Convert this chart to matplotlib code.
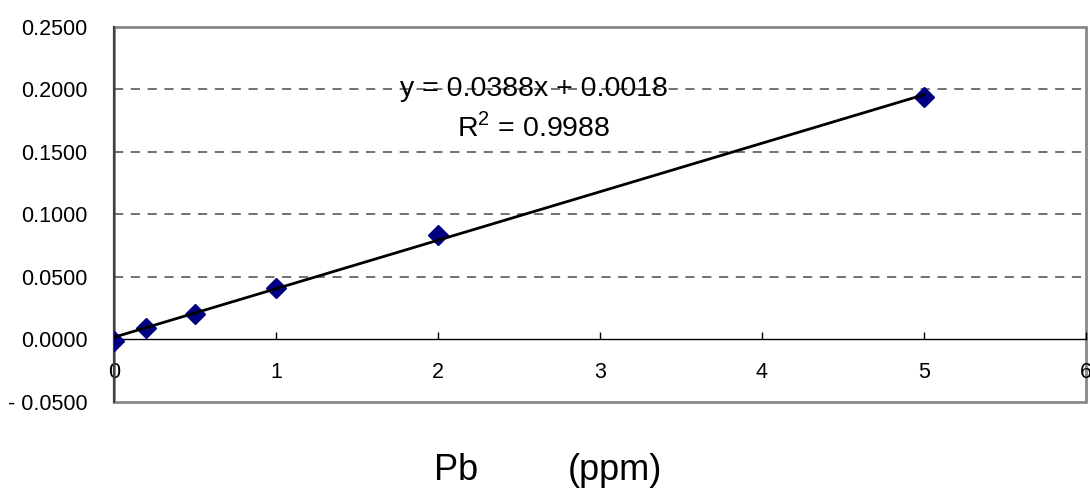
import matplotlib
matplotlib.use('Agg')
import matplotlib.pyplot as plt
from matplotlib.patches import Rectangle
import numpy as np

plt.rcParams['font.family'] = ['Liberation Sans', 'DejaVu Sans']
plt.rcParams['mathtext.fontset'] = 'custom'
plt.rcParams['mathtext.rm'] = 'Liberation Sans'

# Pb calibration standards
conc_ppm = [0, 0.2, 0.5, 1, 2, 5]
absorbance = [-0.0015, 0.0090, 0.0205, 0.0415, 0.0838, 0.1940]

# trendline reported on the chart
slope = 0.0388
intercept = 0.0018
r_squared = 0.9988

y_ticks = [-0.05, 0.0, 0.05, 0.10, 0.15, 0.20, 0.25]
x_ticks = [0, 1, 2, 3, 4, 5, 6]

fig = plt.figure(figsize=(10.9, 4.95), dpi=100)
ax = fig.add_axes([0.1046, 0.1879, 0.8917, 0.7576])

ax.set_xlim(0, 6)
ax.set_ylim(-0.05, 0.25)

# dashed gridlines
for yv in [0.05, 0.10, 0.15, 0.20]:
    ax.axhline(yv, color='#4a4a4a', lw=1.1, ls=(0, (6, 5)), zorder=1)

# data points and trendline
ax.plot(conc_ppm, absorbance, ls='none', marker='D', ms=10,
        color='#000080', mec='#000080', zorder=3)
xfit = np.array([min(conc_ppm), max(conc_ppm)])
ax.plot(xfit, slope * xfit + intercept, color='black', lw=2.0, zorder=4)

# axes styling: x axis sits at y = 0
for side in ['top', 'right']:
    ax.spines[side].set_visible(False)
ax.spines['bottom'].set_position(('data', 0))
ax.spines['bottom'].set_linewidth(1.0)
ax.spines['left'].set_color('#404040')
ax.spines['left'].set_linewidth(1.6)
ax.add_patch(Rectangle((0, 0), 1, 1, transform=ax.transAxes, fill=False,
                       edgecolor='#888888', lw=2.0, zorder=0.5, clip_on=False))

ax.set_xticks(x_ticks)
ax.set_xticklabels([str(v) for v in x_ticks])
ax.set_yticks(y_ticks)
ax.set_yticklabels([f'{v:.4f}'.replace('-', '- ') for v in y_ticks])
ax.tick_params(axis='x', direction='in', length=5, width=1, pad=16, labelsize=15.5)
ax.tick_params(axis='y', length=0, pad=19, labelsize=15.5)

ax.text(2.59, 0.2005, f'y = {slope:.4f}x + {intercept:.4f}', ha='center', va='center',
        fontsize=20.5, zorder=5)
ax.text(2.59, 0.170, r'R$^\mathregular{2}$' + f' = {r_squared:.4f}', ha='center', va='center',
        fontsize=20.5, zorder=5)

fig.text(434 / 1090, 1 - 470 / 495, 'Pb', ha='left', va='center', fontsize=26)
fig.text(568 / 1090, 1 - 470 / 495, '(ppm)', ha='left', va='center', fontsize=26)

fig.savefig('out.png', dpi=100)
